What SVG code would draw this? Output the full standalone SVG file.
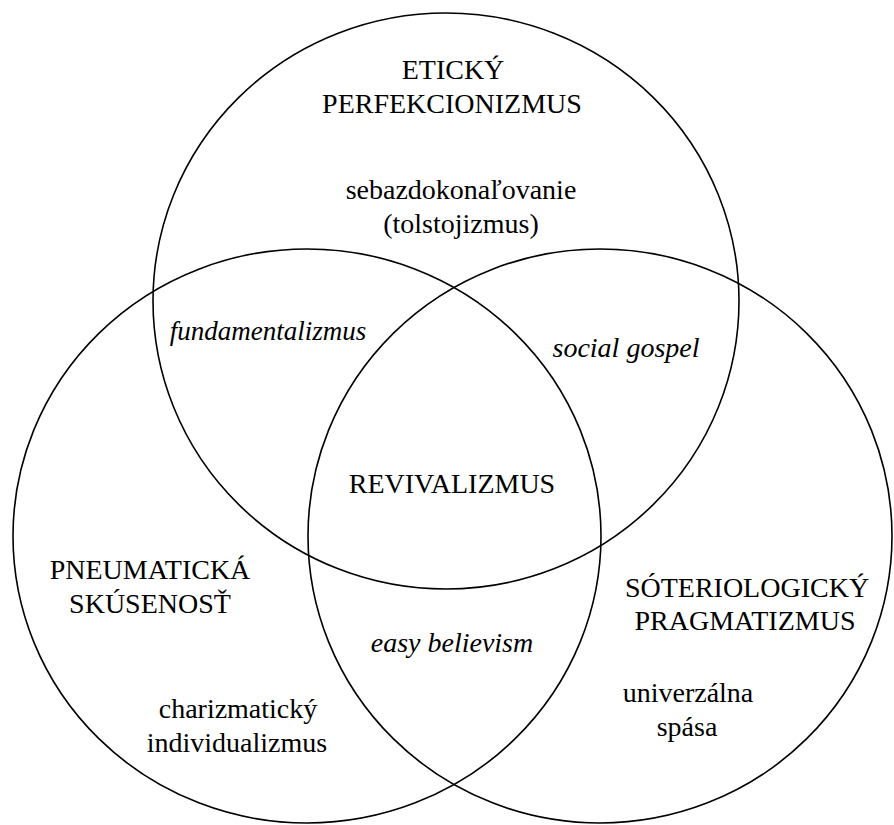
<svg xmlns="http://www.w3.org/2000/svg" width="894" height="825" viewBox="0 0 894 825">
<style>
.c{fill:none;stroke:#000;stroke-width:1.6}
.t{font-family:'Liberation Serif','DejaVu Serif',serif;font-size:28px;fill:#000;text-anchor:middle}
.i{font-style:italic}
</style>
<rect width="894" height="825" fill="#fff"/>
<g id="circles">
<ellipse id="c-top" class="c" cx="446" cy="301" rx="293" ry="288"/>
<ellipse id="c-left" class="c" cx="307" cy="536" rx="294" ry="287"/>
<ellipse id="c-right" class="c" cx="600" cy="536" rx="292" ry="287"/>
</g>
<g id="etic" class="t">
<text x="453" y="79">ETICKÝ</text>
<text x="452" y="113">PERFEKCIONIZMUS</text>
<text x="461" y="199">sebazdokonaľovanie</text>
<text x="461" y="233">(tolstojizmus)</text>
</g>
<g id="fund" class="t"><text class="i" x="268" y="340" font-size="27">fundamentalizmus</text></g>
<g id="social" class="t"><text class="i" x="626" y="357">social gospel</text></g>
<g id="reviv" class="t"><text x="452" y="493">REVIVALIZMUS</text></g>
<g id="pneu" class="t">
<text x="150" y="579">PNEUMATICKÁ</text>
<text x="150" y="613">SKÚSENOSŤ</text>
<text x="238" y="718">charizmatický</text>
<text x="237" y="752">individualizmus</text>
</g>
<g id="easy" class="t"><text class="i" x="452" y="652">easy believism</text></g>
<g id="soter" class="t">
<text x="747" y="597">SÓTERIOLOGICKÝ</text>
<text x="745" y="630">PRAGMATIZMUS</text>
<text x="688" y="702">univerzálna</text>
<text x="687" y="736">spása</text>
</g>
</svg>
